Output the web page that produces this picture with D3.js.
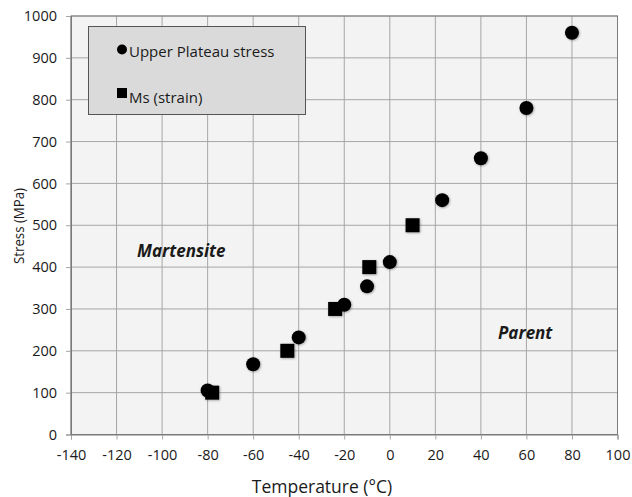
<!DOCTYPE html>
<html>
<head>
<meta charset="utf-8">
<script src="https://cdn.jsdelivr.net/npm/d3@7"></script>
<style>
  html, body { margin: 0; padding: 0; background: #ffffff; }
  svg { display: block; font-family: "Open Sans", "Noto Sans", sans-serif; }
</style>
</head>
<body>
<svg id="chart" width="632" height="497"></svg>
<script>
// Upper plateau stress measurements (temperature °C, stress MPa)
const plateauTemp = [-80, -60, -40, -20, -10, 0, 23, 40, 60, 80];
const plateauStress = [105, 168, 232, 310, 354, 412, 560, 660, 780, 960];

// Ms (strain) measurements
const msTemp = [-78, -45, -24, -9, 10];
const msStress = [100, 200, 300, 400, 500];

// Axis ticks
const xTicks = [-140, -120, -100, -80, -60, -40, -20, 0, 20, 40, 60, 80, 100];
const yTicks = [0, 100, 200, 300, 400, 500, 600, 700, 800, 900, 1000];

const legendLabels = ["Upper Plateau stress", "Ms (strain)"];
const regionLabels = ["Martensite", "Parent"];

const svg = d3.select("#chart");

const x = d3.scaleLinear().domain([-140, 100]).range([71, 617.5]);
const y = d3.scaleLinear().domain([0, 1000]).range([434.5, 16]);

// soft shadow under the markers
const defs = svg.append("defs");
const f = defs.append("filter").attr("id", "shadow")
  .attr("x", "-50%").attr("y", "-50%").attr("width", "200%").attr("height", "200%");
f.append("feDropShadow").attr("dx", 0.8).attr("dy", 0.8)
  .attr("stdDeviation", 0.9).attr("flood-color", "#000").attr("flood-opacity", 0.35);

// plot background
svg.append("rect")
  .attr("x", x(-140)).attr("y", y(1000))
  .attr("width", x(100) - x(-140)).attr("height", y(0) - y(1000))
  .attr("fill", "#f3f3f3");

// grid
const grid = svg.append("g").attr("stroke", "#a6a6a6").attr("stroke-width", 1);
grid.selectAll("line.v").data(xTicks).join("line")
  .attr("x1", d => x(d)).attr("x2", d => x(d))
  .attr("y1", y(1000)).attr("y2", y(0));
grid.selectAll("line.h").data(yTicks).join("line")
  .attr("x1", x(-140)).attr("x2", x(100))
  .attr("y1", d => y(d)).attr("y2", d => y(d));

// axes (plain hyphen for negatives)
const fmt = d => String(d);
const xAxis = svg.append("g")
  .attr("transform", `translate(0,${y(0)})`)
  .call(d3.axisBottom(x).tickValues(xTicks).tickSize(5).tickPadding(10).tickFormat(fmt));
const yAxis = svg.append("g")
  .attr("transform", `translate(${x(-140)},0)`)
  .call(d3.axisLeft(y).tickValues(yTicks).tickSize(5).tickPadding(9).tickFormat(fmt));

[xAxis, yAxis].forEach(a => {
  a.select(".domain").attr("stroke", "#7a7a7a");
  a.selectAll(".tick line").attr("stroke", "#a6a6a6");
  a.selectAll(".tick text").attr("fill", "#1a1a1a").attr("font-size", 14.5)
    .attr("font-family", "'Open Sans', sans-serif");
});
xAxis.selectAll(".tick text").attr("dy", "0.71em");

// right and top border
svg.append("rect")
  .attr("x", x(-140)).attr("y", y(1000))
  .attr("width", x(100) - x(-140)).attr("height", y(0) - y(1000))
  .attr("fill", "none").attr("stroke", "#7a7a7a");

// axis titles
svg.append("text")
  .attr("x", 322).attr("y", 487).attr("dy", "0.35em")
  .attr("text-anchor", "middle").attr("font-size", 17.5).attr("fill", "#1a1a1a")
  .text("Temperature (°C)");
svg.append("text")
  .attr("transform", `translate(19,226) rotate(-90)`)
  .attr("dy", "0.35em")
  .attr("text-anchor", "middle").attr("font-size", 15).attr("fill", "#1a1a1a")
  .attr("textLength", 76).attr("lengthAdjust", "spacingAndGlyphs")
  .text("Stress (MPa)");

// legend
const legend = svg.append("g");
legend.append("rect")
  .attr("x", 88.5).attr("y", 26.5).attr("width", 217).attr("height", 88)
  .attr("fill", "#dadada").attr("stroke", "#555").attr("stroke-width", 1);
legend.append("circle").attr("cx", 122).attr("cy", 49.5).attr("r", 5).attr("fill", "#000");
legend.append("rect").attr("x", 117).attr("y", 88).attr("width", 10).attr("height", 10).attr("fill", "#000");
legend.append("text").attr("x", 129).attr("y", 52).attr("dy", "0.35em")
  .attr("font-size", 15).attr("fill", "#1a1a1a").text(legendLabels[0]);
legend.append("text").attr("x", 129).attr("y", 98).attr("dy", "0.35em")
  .attr("font-size", 15).attr("fill", "#1a1a1a").text(legendLabels[1]);

// region labels
svg.append("text").attr("x", 137).attr("y", 257)
  .attr("font-size", 17).attr("font-weight", "bold").attr("font-style", "italic")
  .attr("fill", "#1a1a1a").text(regionLabels[0]);
svg.append("text").attr("x", 498).attr("y", 339)
  .attr("font-size", 17).attr("font-weight", "bold").attr("font-style", "italic")
  .attr("fill", "#1a1a1a").text(regionLabels[1]);

// markers
const marks = svg.append("g").attr("filter", "url(#shadow)");
marks.selectAll("circle").data(d3.zip(plateauTemp, plateauStress)).join("circle")
  .attr("cx", d => x(d[0])).attr("cy", d => y(d[1])).attr("r", 7).attr("fill", "#000");
marks.selectAll("rect").data(d3.zip(msTemp, msStress)).join("rect")
  .attr("x", d => x(d[0]) - 7).attr("y", d => y(d[1]) - 7)
  .attr("width", 14).attr("height", 14).attr("fill", "#000");
</script>
</body>
</html>
